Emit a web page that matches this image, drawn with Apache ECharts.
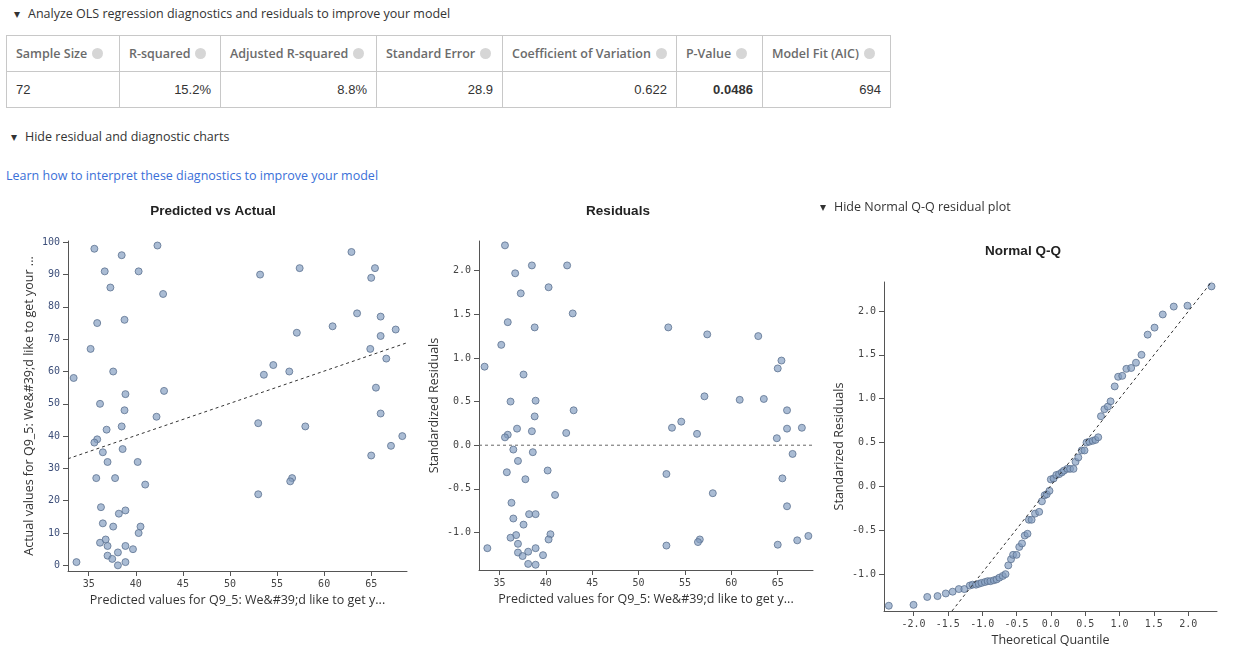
<!DOCTYPE html>
<html>
<head>
<meta charset="utf-8">
<script src="https://cdn.jsdelivr.net/npm/echarts@6/dist/echarts.min.js"></script>
<style>
  body { margin: 0; width: 1242px; height: 661px; font-family: "Open Sans", "Noto Sans", sans-serif; color: #333; position: relative; overflow: hidden; }
  .toggle { position: absolute; font-size: 12.5px; white-space: nowrap; }
  .toggle:before { content: "\25BE"; font-size: 12px; margin-right: 8px; }
  table { position: absolute; left: 6px; top: 35px; border-collapse: collapse; font-size: 12.5px; table-layout: fixed; }
  td, th { border: 1px solid #c8c8c8; height: 35px; padding: 0 9px; white-space: nowrap; overflow: hidden; }
  th { color: #6b6b6b; font-weight: 600; text-align: left; }
  td { text-align: right; font-family: "Liberation Sans", Arial, sans-serif; font-size: 13px; }
  td:first-child { text-align: left; }
  .i { display: inline-block; width: 11px; height: 11px; border-radius: 50%; background: #d6d6d6; margin-left: 5px; vertical-align: -1px; }
  a { position: absolute; left: 6px; top: 167px; font-size: 12.5px; color: #3a6fd8; text-decoration: none; white-space: nowrap; }
  #chart { position: absolute; left: 0; top: 190px; width: 1242px; height: 471px; }
</style>
</head>
<body>
<div class="toggle" style="left:14px;top:5px">Analyze OLS regression diagnostics and residuals to improve your model</div>
<table>
  <tr id="hdr"></tr>
  <tr id="val"></tr>
</table>
<div class="toggle" style="left:11px;top:128px">Hide residual and diagnostic charts</div>
<a href="#">Learn how to interpret these diagnostics to improve your model</a>
<div id="chart"></div>
<div class="toggle" style="left:820px;top:198px">Hide Normal Q-Q residual plot</div>
<script>
var statNames = ["Sample Size", "R-squared", "Adjusted R-squared", "Standard Error", "Coefficient of Variation", "P-Value", "Model Fit (AIC)"];
var statValues = ["72", "15.2%", "8.8%", "28.9", "0.622", "0.0486", "694"];
var colWidths = [113, 101, 156, 126, 173, 86, 128];

// predicted, actual, standardized residual (same order)
var predicted = [35.6, 42.3, 38.5, 36.7, 40.3, 37.3, 42.9, 35.9, 38.8, 35.2, 33.4, 37.6, 38.9, 36.2, 38.8, 42.2, 43.0, 38.5, 36.9, 35.9, 35.6, 36.5, 38.6, 37.0, 40.2, 35.8, 37.8, 41.0, 36.3, 38.2, 38.9, 36.5, 37.6, 40.5, 40.3, 36.8, 36.2, 37.0, 38.9, 39.7, 37.0, 38.1, 37.5, 33.7, 38.9, 38.1,
  53.2, 57.4, 62.9, 65.4, 65.0, 63.5, 66.0, 67.6, 60.9, 57.1, 66.0, 64.9, 66.6, 54.6, 53.6, 56.3, 65.5, 66.0, 53.0, 58.0, 68.3, 67.1, 65.0, 56.6, 56.4, 53.0];
var actual = [98, 99, 96, 91, 91, 86, 84, 75, 76, 67, 58, 60, 53, 50, 48, 46, 54, 43, 42, 39, 38, 35, 36, 32, 32, 27, 27, 25, 18, 16, 17, 13, 12, 12, 10, 8, 7, 6, 6, 5, 3, 4, 2, 1, 1, 0,
  90, 92, 97, 92, 89, 78, 77, 73, 74, 72, 71, 67, 64, 62, 59, 60, 55, 47, 44, 43, 40, 37, 34, 27, 26, 22];
var residual = [2.29, 2.06, 2.06, 1.97, 1.81, 1.74, 1.51, 1.41, 1.35, 1.15, 0.90, 0.81, 0.51, 0.50, 0.33, 0.14, 0.40, 0.16, 0.19, 0.12, 0.09, -0.05, -0.08, -0.18, -0.29, -0.31, -0.39, -0.57, -0.66, -0.79, -0.79, -0.84, -0.91, -1.02, -1.08, -1.03, -1.06, -1.13, -1.18, -1.26, -1.23, -1.22, -1.27, -1.18, -1.37, -1.36,
  1.35, 1.27, 1.25, 0.97, 0.88, 0.53, 0.40, 0.20, 0.52, 0.56, 0.19, 0.08, -0.10, 0.27, 0.20, 0.13, -0.38, -0.70, -0.33, -0.55, -1.04, -1.09, -1.14, -1.08, -1.11, -1.15];
var fitX = [32.8, 68.8];
var fitY = [33.0, 68.9];
var zeroX = [32.8, 68.8];
var zeroY = [0, 0];

var qqX = [-2.36, -2.0, -1.80, -1.65, -1.53, -1.43, -1.34, -1.26,
  -1.18, -1.14, -1.09, -1.05, -1.01, -0.96, -0.92, -0.88, -0.83, -0.79, -0.75, -0.70, -0.66,
  -0.62, -0.58, -0.55, -0.50, -0.46, -0.42, -0.38, -0.34, -0.32, -0.28, -0.23, -0.17, -0.13, -0.09, -0.06, -0.02,
  0.0, 0.04, 0.08, 0.12, 0.16, 0.19, 0.24, 0.28, 0.33, 0.36, 0.40, 0.45, 0.49, 0.52, 0.56, 0.61, 0.65, 0.69,
  0.73, 0.78, 0.83, 0.87, 0.93, 0.98, 1.04, 1.10, 1.17, 1.24, 1.32, 1.41, 1.51, 1.63, 1.79, 1.99, 2.34];
var qqY = [-1.36, -1.35, -1.26, -1.25, -1.22, -1.20, -1.17, -1.17,
  -1.13, -1.12, -1.12, -1.11, -1.10, -1.09, -1.08, -1.08, -1.07, -1.06, -1.04, -1.02, -1.00,
  -0.90, -0.83, -0.78, -0.78, -0.69, -0.65, -0.56, -0.54, -0.38, -0.38, -0.31, -0.29, -0.17, -0.10, -0.09, -0.05,
  0.08, 0.09, 0.13, 0.14, 0.16, 0.18, 0.20, 0.20, 0.20, 0.28, 0.33, 0.41, 0.41, 0.50, 0.51, 0.52, 0.53, 0.56,
  0.80, 0.88, 0.91, 0.97, 1.14, 1.25, 1.26, 1.34, 1.35, 1.41, 1.50, 1.73, 1.81, 1.96, 2.05, 2.06, 2.28];
var qqLineX = [-1.44, 2.40];
var qqLineY = [-1.42, 2.39];

var xTicks = [35, 40, 45, 50, 55, 60, 65];
var actualTicks = [0, 10, 20, 30, 40, 50, 60, 70, 80, 90, 100];
var residTicks = [-1.0, -0.5, 0.0, 0.5, 1.0, 1.5, 2.0];
var qqXTicks = [-2.0, -1.5, -1.0, -0.5, 0.0, 0.5, 1.0, 1.5, 2.0];

var hdr = document.getElementById("hdr"), val = document.getElementById("val");
statNames.forEach(function (n, i) {
    var th = document.createElement("th");
    th.style.width = (colWidths[i] - 19) + "px";
    th.innerHTML = n + '<span class="i"></span>';
    hdr.appendChild(th);
    var td = document.createElement("td");
    td.textContent = statValues[i];
    if (n === "P-Value") td.style.fontWeight = "bold";
    val.appendChild(td);
});

function zip(a, b) {
    return a.map(function (v, i) { return [v, b[i]]; });
}

var mono = "DejaVu Sans Mono";
function valAxis(idx, min, max, ticks, name, gap, dec, labelColor) {
    return {
        type: "value", gridIndex: idx, min: min, max: max, scale: true,
        name: name, nameLocation: "middle", nameGap: gap,
        nameTextStyle: { color: "#333", fontSize: 12.5, fontFamily: "Open Sans" },
        splitLine: { show: false },
        axisLine: { show: true, onZero: false, lineStyle: { color: "#555" } },
        axisTick: { show: true, length: 5, customValues: ticks, lineStyle: { color: "#555" } },
        axisLabel: {
            customValues: ticks, fontFamily: mono, fontSize: 10, color: labelColor || "#444",
            formatter: function (v) { return dec ? v.toFixed(1) : String(v); }
        }
    };
}

var dot = {
    type: "scatter", symbolSize: 7,
    itemStyle: { color: "rgba(130,157,192,0.85)", borderColor: "#5d7290", borderWidth: 1 }
};
function dash(xi, data, color) {
    return {
        type: "line", xAxisIndex: xi, yAxisIndex: xi, data: data, symbol: "none", silent: true,
        lineStyle: { color: color || "#333", width: 1, type: [3, 3] }
    };
}

var chart = echarts.init(document.getElementById("chart"));
chart.setOption({
    animation: false,
    title: [
        { text: "Predicted vs Actual", left: 208, top: 9, textAlign: "center", textStyle: { fontSize: 13.5, fontWeight: "bold", color: "#222" } },
        { text: "Residuals", left: 613, top: 9, textAlign: "center", textStyle: { fontSize: 13.5, fontWeight: "bold", color: "#222" } },
        { text: "Normal Q-Q", left: 1018, top: 49, textAlign: "center", textStyle: { fontSize: 13.5, fontWeight: "bold", color: "#222" } }
    ],
    grid: [
        { left: 68, top: 51, width: 339, height: 330 },
        { left: 479, top: 51, width: 334, height: 329 },
        { left: 884, top: 92, width: 333, height: 329 }
    ],
    xAxis: [
        valAxis(0, 32.8, 68.8, xTicks, "Predicted values for Q9_5: We&#39;d like to get y...", 22, false),
        valAxis(1, 32.8, 68.8, xTicks, "Predicted values for Q9_5: We&#39;d like to get y...", 22, false),
        valAxis(2, -2.43, 2.42, qqXTicks, "Theoretical Quantile", 22, true)
    ],
    yAxis: [
        valAxis(0, -1.75, 100.4, actualTicks, "Actual values for Q9_5: We&#39;d like to get your ...", 32, false, "#3d4f7a"),
        valAxis(1, -1.43, 2.34, residTicks, "Standardized Residuals", 38, true),
        valAxis(2, -1.42, 2.33, residTicks, "Standarized Residuals", 38, true)
    ],
    series: [
        dash(0, zip(fitX, fitY)),
        Object.assign({ xAxisIndex: 0, yAxisIndex: 0, data: zip(predicted, actual) }, dot),
        dash(1, zip(zeroX, zeroY), "#666"),
        Object.assign({ xAxisIndex: 1, yAxisIndex: 1, data: zip(predicted, residual) }, dot),
        dash(2, zip(qqLineX, qqLineY)),
        Object.assign({ xAxisIndex: 2, yAxisIndex: 2, data: zip(qqX, qqY) }, dot)
    ]
});
</script>
</body>
</html>
